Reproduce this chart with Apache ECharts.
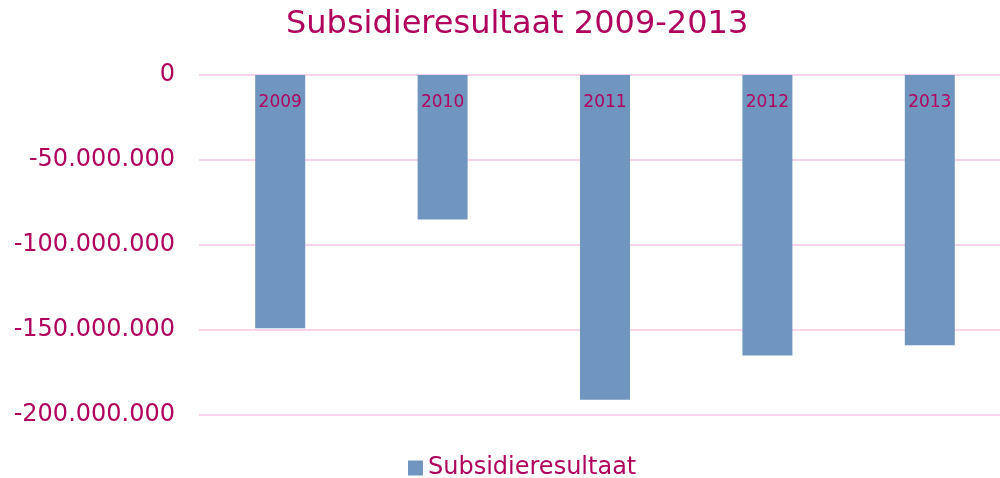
<!DOCTYPE html>
<html>
<head>
<meta charset="utf-8">
<script src="https://cdn.jsdelivr.net/npm/echarts@6/dist/echarts.min.js"></script>
<style>
  html, body { margin: 0; padding: 0; background: #fff; }
  #chart { width: 1000px; height: 478px; }
</style>
</head>
<body>
<div id="chart"></div>
<script>
// jaren en subsidieresultaat (euro)
const years = ['2009', '2010', '2011', '2012', '2013'];
const subsidie = [-149000000, -85000000, -191000000, -165000000, -159000000];
const yTicks = [0, -50000000, -100000000, -150000000, -200000000];

const txt = '#B0005E';
const font = 'DejaVu Sans';

const fmt = v => {
  if (v === 0) return '0';
  const s = Math.abs(v).toString().replace(/\B(?=(\d{3})+(?!\d))/g, '.');
  return (v < 0 ? '-' : '') + s;
};

let chart = echarts.init(document.getElementById('chart'));
chart.setOption({
  animation: false,
  title: {
    text: 'Subsidieresultaat 2009-2013',
    left: 281,
    top: 4,
    textStyle: { color: txt, fontSize: 32, fontWeight: 'normal', fontFamily: font }
  },
  legend: {
    bottom: -7,
    left: 403,
    icon: 'rect',
    itemWidth: 15,
    itemHeight: 15,
    itemGap: 4,
    textStyle: { color: txt, fontSize: 24, fontFamily: font }
  },
  grid: { left: 199, top: 75, width: 812, height: 340, outerBoundsMode: 'none' },
  xAxis: {
    type: 'category',
    data: years,
    position: 'top',
    z: 10,
    axisLine: { show: false },
    axisTick: { show: false },
    axisLabel: { inside: true, color: txt, fontSize: 17, fontFamily: font, margin: 19 }
  },
  yAxis: {
    type: 'value',
    min: yTicks[yTicks.length - 1],
    max: yTicks[0],
    interval: 50000000,
    axisLine: { show: false },
    axisTick: { show: false },
    axisLabel: { color: txt, fontSize: 24, fontFamily: font, margin: 24, padding: [4, 0, 0, 0], formatter: fmt },
    splitLine: { lineStyle: { color: '#F9D3EC', width: 2 } }
  },
  series: [{
    name: 'Subsidieresultaat',
    type: 'bar',
    data: subsidie,
    barWidth: 50,
    itemStyle: { color: '#7096C0' }
  }]
});
</script>
</body>
</html>
